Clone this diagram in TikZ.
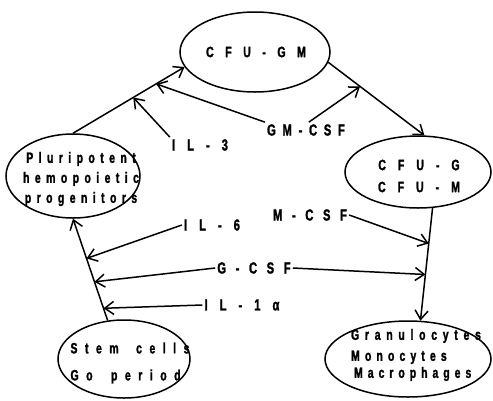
\documentclass[tikz,border=0pt]{standalone}
\usepackage{fontspec}
\setmainfont{Liberation Sans Bold}[FakeStretch=0.7,FakeBold=1.5]
\newcommand\spaced[1]{\addfontfeature{LetterSpace=#1}}
\usetikzlibrary{arrows.meta,shapes.geometric}

\tikzset{
  cell/.style={draw, ellipse, line width=1.5pt, inner sep=0pt},
  celltext/.style={inner sep=0pt, font=\fontsize{15}{20}\selectfont},
  lab/.style={inner sep=2pt, font=\fontsize{16}{16}\selectfont},
  arr/.style={line width=1.5pt, -{Straight Barb[length=9pt,width=13pt]}}
}

\begin{document}
\begin{tikzpicture}[x=1pt,y=-1pt]
			%%%%% START %%%%%
			\useasboundingbox (0,0) rectangle (493,400);
			
			% cells
			\node[cell, minimum width=150, minimum height=80] (gm) at (255,52) {};
			\node[cell, minimum width=134, minimum height=84] (plu) at (73,176) {};
			\node[cell, minimum width=146, minimum height=72] (cfu) at (418,172) {};
			\node[cell, minimum width=132, minimum height=78] (stem) at (124,359) {};
			\node[cell, minimum width=166, minimum height=76] (gran) at (408,359) {};
			
			\node[celltext] (gmtext) at (256,52) {\spaced{77}CFU-GM};
			\node[celltext, align=center] (plutext) at (81,179)
				{\spaced{36}Pluripotent\\\spaced{36}hemopoietic\\\spaced{36}progenitors};
			\node[celltext, align=center] (cfutext) at (419,176)
				{\spaced{80}CFU-G\\[2pt]\spaced{80}CFU-M};
			\node[celltext, align=left] (stemtext) at (130,363)
				{\spaced{50}Stem\hspace{7pt} cells\\[7pt]\spaced{50}Go\hspace{8pt} period};
			\node[celltext, align=left] (grantext) at (416,355)
				{\spaced{38}Granulocytes\\[1pt]\spaced{34}Monocytes\\[-3pt]\hspace{3pt}\spaced{33}Macrophages};
			
			% main pathway
			\draw[arr] (plu.north) -- coordinate[pos=0.54] (il3pt) coordinate[pos=0.745] (gmpt) (gm.192);
			\draw[arr] (gm.352) -- coordinate[pos=0.33] (gmpt2) (cfu.80);
			\draw[arr] (cfu.292) -- coordinate[pos=0.315] (mpt) coordinate[pos=0.59] (gpt2) (gran.72);
			\draw[arr] (stem.113) -- coordinate[pos=0.12] (il1pt) coordinate[pos=0.38] (gpt) coordinate[pos=0.61] (il6pt) (plu.south);
			
			% factors
			\node[lab] (il3) at (200,145) {\spaced{75}IL-3};
			\node[lab] (gmcsf) at (306,130) {\spaced{42}GM-CSF};
			\node[lab] (mcsf) at (310,215) {\spaced{60}M-CSF};
			\node[lab] (il6) at (212,225) {\spaced{75}IL-6};
			\node[lab] (gcsf) at (254,268) {\spaced{60}G-CSF};
			\node[lab] (il1) at (242,305) {\spaced{75}IL-1α};
			
			\draw[arr] (il3.north west) -- (il3pt);
			\draw[arr] (gmcsf.north west) -- (gmpt);
			\draw[arr] (gmcsf.70) -- (gmpt2);
			\draw[arr] (mcsf.east) -- (mpt);
			\draw[arr] (il6.west) -- (il6pt);
			\draw[arr] (gcsf.west) -- (gpt);
			\draw[arr] (gcsf.east) -- (gpt2);
			\draw[arr] (il1.west) -- (il1pt);
			
			%%%%% END %%%%%
		\end{tikzpicture}
\end{document}
